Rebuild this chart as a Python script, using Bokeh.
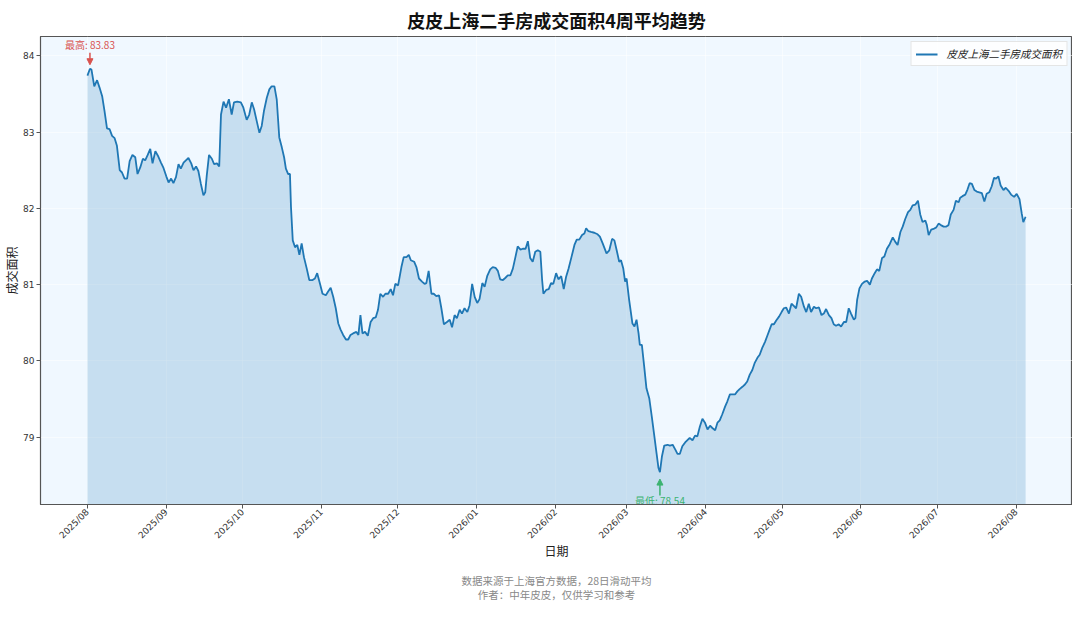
import math
import numpy as np
import pandas as pd
from bokeh.plotting import figure
from bokeh.models import (ColumnDataSource, FixedTicker, DatetimeTickFormatter, LinearAxis,
                          Range1d, Arrow, NormalHead, Legend, LegendItem)
from bokeh.core.properties import value
from bokeh.embed import file_html
from bokeh.resources import INLINE

# ---------------- data ----------------
title_text = "皮皮上海二手房成交面积4周平均趋势"
series_name = "皮皮上海二手房成交面积"
x_label = "日期"
y_label = "成交面积"
footer_lines = ["数据来源于上海官方数据，28日滑动平均", "作者：中年皮皮，仅供学习和参考"]
max_prefix = "最高"
min_prefix = "最低"

start_date = "2025-08-01"

# days after start_date
day_offsets = [
    0, 1, 1.6, 2.7, 3.8, 4.8, 5.8, 6.7, 7.7, 8.7,
    9.7, 10.7, 11.6, 12.7, 13.6, 14.6, 15.6, 16.6, 17.7, 18.8,
    19.7, 20.8, 21.8, 22.7, 23.7, 24.7, 25.6, 26.7, 27.7, 28.9,
    29.9, 31.0, 31.9, 32.9, 33.8, 34.8, 35.8, 36.7, 37.8, 38.7,
    39.7, 40.8, 41.7, 42.7, 43.6, 44.6, 45.6, 46.3, 46.9, 47.8,
    48.9, 49.8, 50.9, 51.8, 52.5, 53.5, 54.5, 55.6, 56.7, 57.6,
    58.9, 60.3, 61.3, 62.6, 63.6, 64.6, 65.5, 66.5, 67.6, 68.5,
    69.4, 70.5, 71.5, 72.4, 73.5, 74.4, 75.4, 76.4, 77.3, 78.0,
    78.9, 79.6, 80.0, 80.7, 81.6, 82.5, 83.3, 84.2, 85.1, 86.2,
    87.2, 88.5, 89.4, 90.3, 91.4, 92.4, 93.7, 94.6, 95.6, 96.6,
    97.6, 98.6, 99.5, 100.5, 101.6, 102.5, 103.4, 104.4, 105.7, 106.5,
    107.3, 108.1, 109.1, 110.2, 111.3, 112.3, 113.3, 114.2, 115.1, 116.2,
    117.1, 118.2, 119.2, 120.1, 121.0, 122.1, 123.4, 124.3, 125.4, 126.3,
    127.1, 128.4, 129.3, 130.3, 131.5, 132.5, 133.2, 134.1, 135.2, 136.1,
    137.1, 138.2, 139.1, 140.1, 141.3, 142.4, 143.3, 144.3, 145.2, 146.3,
    147.2, 148.2, 149.3, 150.2, 151.2, 152.2, 153.2, 154.1, 155.2, 156.1,
    157.1, 158.3, 159.3, 160.4, 161.3, 162.2, 163.3, 164.3, 165.2, 166.2,
    167.2, 168.2, 169.1, 170.2, 171.1, 172.2, 173.1, 174.0, 175.0, 176.0,
    177.0, 178.0, 178.7, 179.2, 180.3, 181.3, 182.2, 183.1, 184.2, 185.1,
    186.2, 187.2, 188.1, 189.1, 190.3, 191.4, 192.3, 193.3, 194.4, 195.3,
    196.0, 196.9, 197.9, 199.2, 200.5, 201.4, 202.5, 204.0, 205.1, 206.2,
    207.1, 208.0, 209.0, 209.7, 210.6, 211.3, 211.9, 212.9, 214.2, 215.0,
    215.8, 216.6, 217.1, 217.9, 218.8, 219.7, 220.8, 221.8, 222.7, 223.7,
    224.4, 225.0, 225.8, 226.7, 228.0, 228.9, 230.0, 231.0, 231.9, 232.8,
    233.8, 234.9, 235.8, 236.7, 237.8, 238.8, 239.7, 240.7, 241.7, 242.7,
    243.7, 244.7, 245.6, 246.7, 247.6, 248.5, 249.5, 250.6, 251.5, 252.5,
    253.5, 254.5, 255.4, 256.3, 257.4, 258.4, 259.3, 260.3, 261.3, 262.2,
    263.3, 264.2, 265.2, 266.3, 267.2, 268.1, 268.9, 269.8, 270.7, 271.8,
    272.8, 273.7, 274.6, 275.7, 276.7, 277.6, 278.5, 279.6, 280.5, 281.6,
    282.5, 283.5, 284.4, 285.5, 286.4, 287.5, 288.5, 289.4, 290.3, 291.4,
    292.4, 293.3, 294.2, 295.3, 296.2, 297.3, 298.2, 299.2, 300.1, 301.2,
    301.8, 302.5, 303.4, 304.4, 305.5, 306.4, 307.5, 308.3, 309.4, 310.3,
    311.2, 312.3, 313.2, 314.2, 315.3, 316.5, 317.5, 318.4, 319.5, 320.4,
    321.4, 322.5, 323.4, 324.3, 325.4, 326.4, 327.3, 328.2, 329.3, 329.9,
    330.6, 331.6, 332.5, 333.6, 334.5, 335.4, 336.5, 337.4, 338.4, 339.3,
    340.4, 341.3, 342.4, 343.0, 343.9, 345.0, 345.9, 346.7, 347.6, 348.6,
    349.5, 350.5, 351.5, 352.5, 353.4, 354.4, 355.4, 356.3, 357.1, 358.0,
    358.9, 360.0, 360.9, 362.0, 363.0, 364.2, 365.2, 366.3, 367.2, 367.8,
    368.7,
]

area_values = [
    83.74, 83.83, 83.82, 83.60, 83.68, 83.58, 83.47, 83.28, 83.05, 83.04,
    82.95, 82.92, 82.82, 82.50, 82.47, 82.39, 82.39, 82.62, 82.70, 82.67,
    82.45, 82.54, 82.65, 82.63, 82.70, 82.78, 82.59, 82.75, 82.69, 82.60,
    82.53, 82.42, 82.34, 82.39, 82.33, 82.41, 82.58, 82.52, 82.60, 82.63,
    82.66, 82.59, 82.50, 82.55, 82.49, 82.32, 82.17, 82.21, 82.43, 82.70,
    82.65, 82.58, 82.59, 82.55, 83.23, 83.40, 83.32, 83.43, 83.23, 83.39,
    83.40, 83.39, 83.32, 83.16, 83.23, 83.39, 83.30, 83.15, 82.99, 83.08,
    83.28, 83.45, 83.56, 83.60, 83.60, 83.43, 82.93, 82.80, 82.67, 82.52,
    82.45, 82.45, 82.02, 81.58, 81.49, 81.52, 81.39, 81.54, 81.36, 81.21,
    81.06, 81.06, 81.08, 81.15, 81.01, 80.88, 80.86, 80.91, 80.96, 80.84,
    80.69, 80.49, 80.41, 80.34, 80.28, 80.28, 80.34, 80.36, 80.38, 80.34,
    80.60, 80.36, 80.38, 80.33, 80.51, 80.56, 80.57, 80.67, 80.88, 80.84,
    80.88, 80.88, 80.94, 80.86, 81.01, 80.99, 81.23, 81.36, 81.36, 81.39,
    81.32, 81.30, 81.23, 81.08, 81.04, 81.01, 81.02, 81.18, 80.88, 80.88,
    80.85, 80.86, 80.69, 80.48, 80.51, 80.54, 80.44, 80.60, 80.56, 80.67,
    80.62, 80.69, 80.64, 80.73, 81.01, 80.84, 80.76, 80.81, 81.02, 80.97,
    81.11, 81.20, 81.23, 81.22, 81.18, 81.07, 81.06, 81.09, 81.12, 81.12,
    81.21, 81.36, 81.50, 81.46, 81.47, 81.47, 81.57, 81.35, 81.30, 81.43,
    81.45, 81.43, 81.06, 80.88, 80.93, 80.94, 81.02, 81.01, 81.15, 81.07,
    81.11, 80.94, 81.10, 81.21, 81.37, 81.52, 81.59, 81.59, 81.65, 81.67,
    81.74, 81.70, 81.69, 81.68, 81.66, 81.63, 81.54, 81.41, 81.45, 81.60,
    81.58, 81.45, 81.30, 81.32, 81.21, 81.04, 81.08, 80.80, 80.49, 80.45,
    80.54, 80.36, 80.21, 80.21, 79.93, 79.64, 79.51, 79.27, 79.04, 78.78,
    78.60, 78.54, 78.75, 78.89, 78.90, 78.89, 78.90, 78.84, 78.78, 78.78,
    78.88, 78.93, 78.96, 78.99, 78.96, 79.02, 79.01, 79.14, 79.24, 79.19,
    79.10, 79.15, 79.12, 79.09, 79.19, 79.22, 79.30, 79.40, 79.47, 79.56,
    79.56, 79.56, 79.60, 79.63, 79.66, 79.69, 79.73, 79.82, 79.88, 79.97,
    80.04, 80.08, 80.17, 80.25, 80.33, 80.41, 80.48, 80.48, 80.53, 80.58,
    80.64, 80.69, 80.70, 80.62, 80.75, 80.72, 80.69, 80.88, 80.84, 80.71,
    80.64, 80.75, 80.64, 80.71, 80.69, 80.70, 80.60, 80.62, 80.68, 80.60,
    80.56, 80.48, 80.46, 80.48, 80.45, 80.51, 80.51, 80.69, 80.62, 80.54,
    80.56, 80.80, 80.95, 81.01, 81.04, 81.05, 81.00, 81.08, 81.15, 81.20,
    81.18, 81.35, 81.37, 81.47, 81.53, 81.62, 81.56, 81.52, 81.69, 81.76,
    81.86, 81.95, 81.98, 82.04, 82.05, 82.10, 81.92, 81.82, 81.84, 81.78,
    81.65, 81.72, 81.73, 81.75, 81.80, 81.78, 81.76, 81.76, 81.78, 81.92,
    81.98, 82.10, 82.08, 82.14, 82.16, 82.18, 82.25, 82.33, 82.32, 82.24,
    82.22, 82.21, 82.20, 82.09, 82.19, 82.21, 82.29, 82.40, 82.39, 82.42,
    82.30, 82.24, 82.27, 82.23, 82.18, 82.15, 82.19, 82.12, 81.93, 81.82,
    81.89,
]

y_ticks = [79, 80, 81, 82, 83, 84]
month_ticks = ["2025-08-01", "2025-09-01", "2025-10-01", "2025-11-01",
               "2025-12-01", "2026-01-01", "2026-02-01", "2026-03-01",
               "2026-04-01", "2026-05-01", "2026-06-01", "2026-07-01",
               "2026-08-01"]

# ---------------- styles ----------------
LINE_COLOR = "#1f77b4"
MAX_COLOR = "#d9534f"
MIN_COLOR = "#3cb371"
CJK = "Noto Sans CJK SC"
TICK_FONT = "DejaVu Sans"

# ---------------- derived ----------------
dates = pd.Timestamp(start_date) + pd.to_timedelta(np.array(day_offsets, dtype=float), unit="D")
vals = np.array(area_values)
vmin, vmax = vals.min(), vals.max()
vr = vmax - vmin
y_lo, y_hi = vmin - 0.08 * vr, vmax + 0.08 * vr
span = dates[-1] - dates[0]
x_lo, x_hi = dates[0] - 0.05 * span, dates[-1] + 0.05 * span

src = ColumnDataSource(dict(date=dates, area=vals))

p = figure(width=1072, height=604, x_axis_type="datetime",
           x_range=Range1d(x_lo, x_hi), y_range=Range1d(y_lo, y_hi),
           output_backend="svg", toolbar_location=None,
           min_border_left=32, min_border_right=0, min_border_top=30, min_border_bottom=95)

p.background_fill_color = "aliceblue"
p.border_fill_color = "white"
p.outline_line_color = "#555555"
p.outline_line_width = 1.2

p.title.text = title_text
p.title.align = "center"
p.title.text_font = CJK
p.title.text_font_size = "18px"
p.title.text_font_style = "bold"
p.title.text_color = "#111111"
p.title.standoff = 8

# fill + line
p.varea(x="date", y1="area", y2=y_lo, source=src, fill_color=LINE_COLOR, fill_alpha=0.2)
line_r = p.line(x="date", y="area", source=src, line_color=LINE_COLOR, line_width=1.8)

# grids
for g in (p.xgrid, p.ygrid):
    g.grid_line_color = "white"
    g.grid_line_alpha = 0.5
p.xgrid.ticker = FixedTicker(ticks=[pd.Timestamp(d).value / 1e6 for d in month_ticks])
p.ygrid.ticker = FixedTicker(ticks=y_ticks)

# axes
xa = p.xaxis[0]
xa.ticker = FixedTicker(ticks=[pd.Timestamp(d).value / 1e6 for d in month_ticks])
xa.formatter = DatetimeTickFormatter(days="%Y/%m", months="%Y/%m", years="%Y/%m")
xa.major_label_orientation = math.pi / 4
xa.axis_label = x_label
ya = p.yaxis[0]
ya.ticker = FixedTicker(ticks=y_ticks)
ya.axis_label = y_label
for ax in (xa, ya):
    ax.axis_line_color = "#555555"
    ax.major_tick_line_color = "#555555"
    ax.major_tick_out = 4
    ax.major_tick_in = 0
    ax.minor_tick_line_color = None
    ax.major_label_text_font = TICK_FONT
    ax.major_label_text_font_size = "9px"
    ax.major_label_text_color = "#333333"
    ax.major_label_standoff = 2
    ax.axis_label_text_font = CJK
    ax.axis_label_text_font_size = "12px"
    ax.axis_label_text_font_style = "normal"
    ax.axis_label_text_color = "#222222"
ya.axis_label_standoff = 0
xa.axis_label_standoff = -5

# footer lines: tick-less axes below the date axis, carrying only a label
for txt, stand in zip(footer_lines, [10, -4]):
    fa = LinearAxis(ticker=FixedTicker(ticks=[]), axis_label=txt)
    fa.axis_line_color = None
    fa.major_tick_line_color = None
    fa.minor_tick_line_color = None
    fa.major_tick_out = 0
    fa.major_tick_in = 0
    fa.minor_tick_out = 0
    fa.minor_tick_in = 0
    fa.major_label_standoff = 0
    fa.axis_label_standoff = stand
    fa.axis_label_text_font = CJK
    fa.axis_label_text_font_size = "10.5px"
    fa.axis_label_text_font_style = "normal"
    fa.axis_label_text_color = "#888888"
    p.add_layout(fa, "below")

# annotations for max / min
imax, imin = int(vals.argmax()), int(vals.argmin())
p.text(x=[dates[imax]], y=[vmax + 0.06 * vr], text=[f"{max_prefix}: {vmax:.2f}"],
       text_align="center", text_baseline="middle", text_font=value(CJK),
       text_font_size="10px", text_color=MAX_COLOR)
p.add_layout(Arrow(end=NormalHead(size=6, fill_color=MAX_COLOR, line_color=MAX_COLOR),
                   x_start=dates[imax], y_start=vmax + 0.04 * vr,
                   x_end=dates[imax], y_end=vmax + 0.01 * vr,
                   line_color=MAX_COLOR, line_width=1.5))
p.text(x=[dates[imin]], y=[vmin - 0.071 * vr], text=[f"{min_prefix}: {vmin:.2f}"],
       text_align="center", text_baseline="middle", text_font=value(CJK),
       text_font_size="10px", text_color=MIN_COLOR)
p.add_layout(Arrow(end=NormalHead(size=6, fill_color=MIN_COLOR, line_color=MIN_COLOR),
                   x_start=dates[imin], y_start=vmin - 0.058 * vr,
                   x_end=dates[imin], y_end=vmin - 0.017 * vr,
                   line_color=MIN_COLOR, line_width=1.5))

# legend
legend = Legend(items=[LegendItem(label=series_name, renderers=[line_r])],
                location="top_right", margin=5, padding=4, spacing=0,
                label_text_font=CJK, label_text_font_size="10.5px",
                label_text_font_style="italic", label_text_color="#222222",
                glyph_width=22, glyph_height=10, label_standoff=9,
                background_fill_color="white", background_fill_alpha=0.85,
                border_line_color="#cccccc", border_line_width=1)
p.add_layout(legend)

open("out.html", "w").write(file_html(p, INLINE))
